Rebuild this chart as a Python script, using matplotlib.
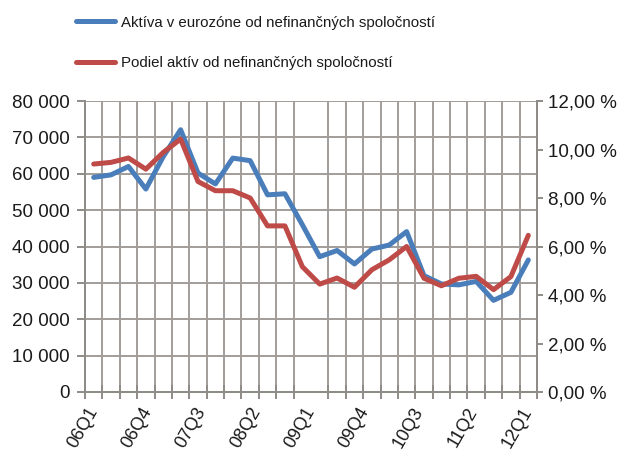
import numpy as np
import matplotlib
matplotlib.use("Agg")
import matplotlib.pyplot as plt
import matplotlib.transforms as mtransforms
from matplotlib.ticker import FuncFormatter, MultipleLocator

plt.rcParams['font.family'] = ['Liberation Sans', 'DejaVu Sans']

# ---- data ----
tick_labels = ["06Q1", "06Q4", "07Q3", "08Q2", "09Q1", "09Q4", "10Q3", "11Q2", "12Q1"]
assets = [59000, 59700, 62000, 55800, 64700, 72100, 60200, 57200, 64300, 63600,
          54200, 54500, 46000, 37200, 38900, 35200, 39300, 40400, 44100, 32000,
          29700, 29450, 30400, 25200, 27400, 36300]
share = [9.40, 9.47, 9.65, 9.19, 9.88, 10.43, 8.68, 8.30, 8.30, 8.00,
         6.85, 6.85, 5.17, 4.45, 4.70, 4.32, 5.04, 5.45, 6.00, 4.69,
         4.38, 4.69, 4.77, 4.22, 4.76, 6.46]
label_assets = "Aktíva v eurozóne od nefinančných spoločností"
label_share = "Podiel aktív od nefinančných spoločností"

blue = "#4a7ebb"
red = "#be4b48"
grid_c = "#a29d98"
axis_c = "#8f8b87"

fig = plt.figure(figsize=(6.19, 4.55), dpi=100)
ax = fig.add_axes([85/619, 1-392/455, (537-85)/619, (392-101)/455])
ax2 = ax.twinx()

x = np.arange(len(assets))
ax.set_xlim(-0.5, len(assets) - 0.5)
ax.set_ylim(0, 80000)
ax2.set_ylim(0, 12)

# grid
ax.set_xticks(np.arange(-0.5, len(assets), 1), minor=True)
ax.grid(which='minor', axis='x', color=grid_c, lw=1.4)
ax.yaxis.set_major_locator(MultipleLocator(10000))
ax.grid(which='major', axis='y', color=grid_c, lw=1.4)
ax.set_axisbelow(True)

l1, = ax.plot(x, assets, color=blue, lw=3.6, solid_capstyle='round', zorder=3, label=label_assets)
l2, = ax2.plot(x, share, color=red, lw=3.6, solid_capstyle='round', zorder=3, label=label_share)
ax.set_zorder(0)
ax2.set_zorder(1)
ax2.patch.set_visible(False)

# x labels
pos = np.linspace(0, len(assets) - 1, len(tick_labels))
ax.set_xticks(pos)
ax.set_xticklabels(tick_labels)
offset = mtransforms.ScaledTranslation(4/100, 0, fig.dpi_scale_trans)
for lab in ax.get_xticklabels():
    lab.set_rotation(60)
    lab.set_rotation_mode('anchor')
    lab.set_ha('right')
    lab.set_va('center')
    lab.set_transform(lab.get_transform() + offset)
ax.tick_params(axis='x', which='major', length=0, pad=12, labelsize=13, labelcolor='#1a1a1a')
ax.tick_params(axis='x', which='minor', direction='inout', length=10, width=1.4, color=axis_c)

ax.yaxis.set_major_formatter(FuncFormatter(lambda v, p: f"{int(v):,}".replace(",", " ")))
ax.tick_params(axis='y', direction='out', length=6, width=1.4, color=axis_c, pad=5, labelsize=13.5, labelcolor='#1a1a1a')

ax2.yaxis.set_major_locator(MultipleLocator(2))
ax2.yaxis.set_major_formatter(FuncFormatter(lambda v, p: f"{v:.2f}".replace(".", ",") + " %"))
ax2.tick_params(axis='y', direction='out', length=4, width=1.4, color=axis_c, pad=4, labelsize=13.5, labelcolor='#1a1a1a')

for a in (ax, ax2):
    a.spines['top'].set_visible(False)
    for s in ('left', 'right', 'bottom'):
        a.spines[s].set_color(axis_c)
        a.spines[s].set_linewidth(1.4)

leg = fig.legend([l1, l2], [label_assets, label_share], loc='upper left',
                 bbox_to_anchor=(62/619, 1 - 2/455), frameon=False, fontsize=10.8,
                 handlelength=2.6, handletextpad=0.45, labelspacing=1.75)
for t in leg.get_texts():
    t.set_color('#1a1a1a')

fig.savefig("out.png", dpi=100)
